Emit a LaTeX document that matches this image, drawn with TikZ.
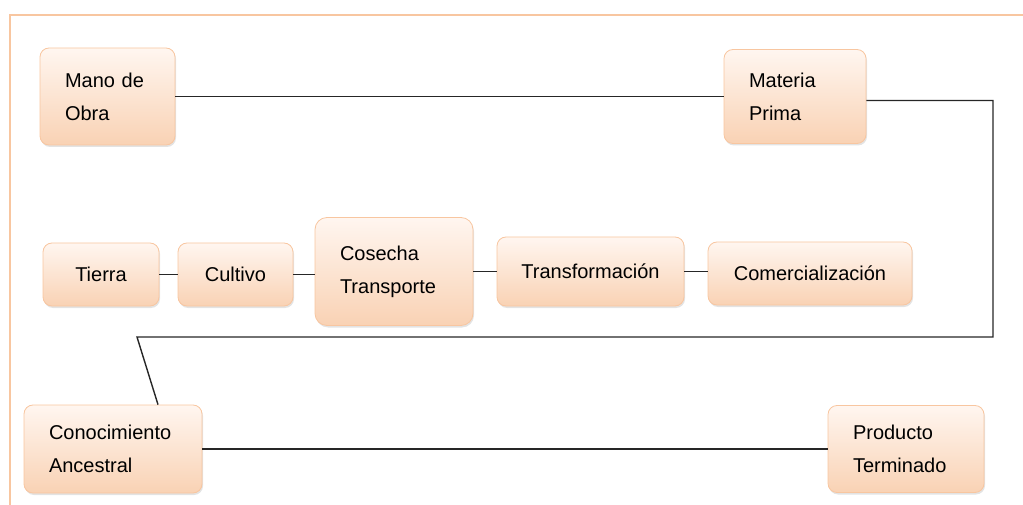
\documentclass[tikz,border=0pt]{standalone}
\usepackage{fontspec}
\setmainfont{Liberation Sans}
\usetikzlibrary{positioning, shadows}
\definecolor{peachline}{HTML}{F8C6A0}
\definecolor{peachfill}{HTML}{F9D2B4}
\definecolor{peachtop}{HTML}{FFF6F0}

\begin{document}
\begin{tikzpicture}
    [
        x=1pt, y=-1pt, node distance=10pt, on grid,
        peach_box/.style={rectangle, rounded corners=9pt, draw=peachline, line width=0.8pt, top color=peachtop, bottom color=peachfill, drop shadow={shadow xshift=1pt, shadow yshift=-2pt, opacity=0.22}, font=\fontsize{20}{33}\selectfont, inner sep=0pt},
        two_line/.style={peach_box, align=left, inner xsep=25pt, text width=#1},
        link/.style={line width=1.4pt, color=black!85},
    ]
        \useasboundingbox (0,0) rectangle (1023,505);
        % frame
        \draw[peachline, line width=1.2pt] (10,505) -- (10,15) -- (1023,15);
        % top row
        \node[two_line=85pt, minimum height=97pt] (mano) at (107.5,96.5) {Mano de\\Obra};
        \node[two_line=92pt, minimum height=94pt] (materia) [right = 687.5pt of mano] {Materia\\Prima};
        % middle row
        \node[peach_box, minimum width=116pt, minimum height=63pt] (tierra) [below left = 178pt and 6.5pt of mano] {Tierra};
        \node[peach_box, minimum width=115pt, minimum height=63pt] (cultivo) [right = 134.5pt of tierra] {Cultivo};
        \node[two_line=108pt, minimum height=108pt, rounded corners=12pt] (cosecha) [right = 158.5pt of cultivo, yshift=3pt] {Cosecha\\Transporte};
        \node[peach_box, minimum width=187pt, minimum height=69pt] (transf) [right = 196.5pt of cosecha] {Transformación};
        \node[peach_box, minimum width=204pt, minimum height=63pt] (comerc) [right = 219.5pt of transf, yshift=-2pt] {Comercialización};
        % bottom row
        \node[two_line=128pt, minimum height=88pt] (conoc) [below right = 174.5pt and 12pt of tierra] {Conocimiento\\Ancestral};
        \node[two_line=106pt, minimum height=87pt] (producto) [right = 793pt of conoc] {Producto\\Terminado};
        \coordinate (rturn) at (993,337);
        \coordinate (lturn) at (137,337);
        \draw[link] (mano) -- (materia);
        \draw[link] (tierra) -- (cultivo);
        \draw[link] (cultivo.east) -- (cultivo.east -| cosecha.west);
        \draw[link] (cosecha) -- (transf);
        \draw[link] (transf.east) -- (transf.east -| comerc.west);
        \draw[link] ([yshift=-4pt]materia.east) -| (rturn) -- (lturn) -- ([xshift=45pt]conoc.north);
        \draw[link] (conoc) -- (producto);
    \end{tikzpicture}
\end{document}
